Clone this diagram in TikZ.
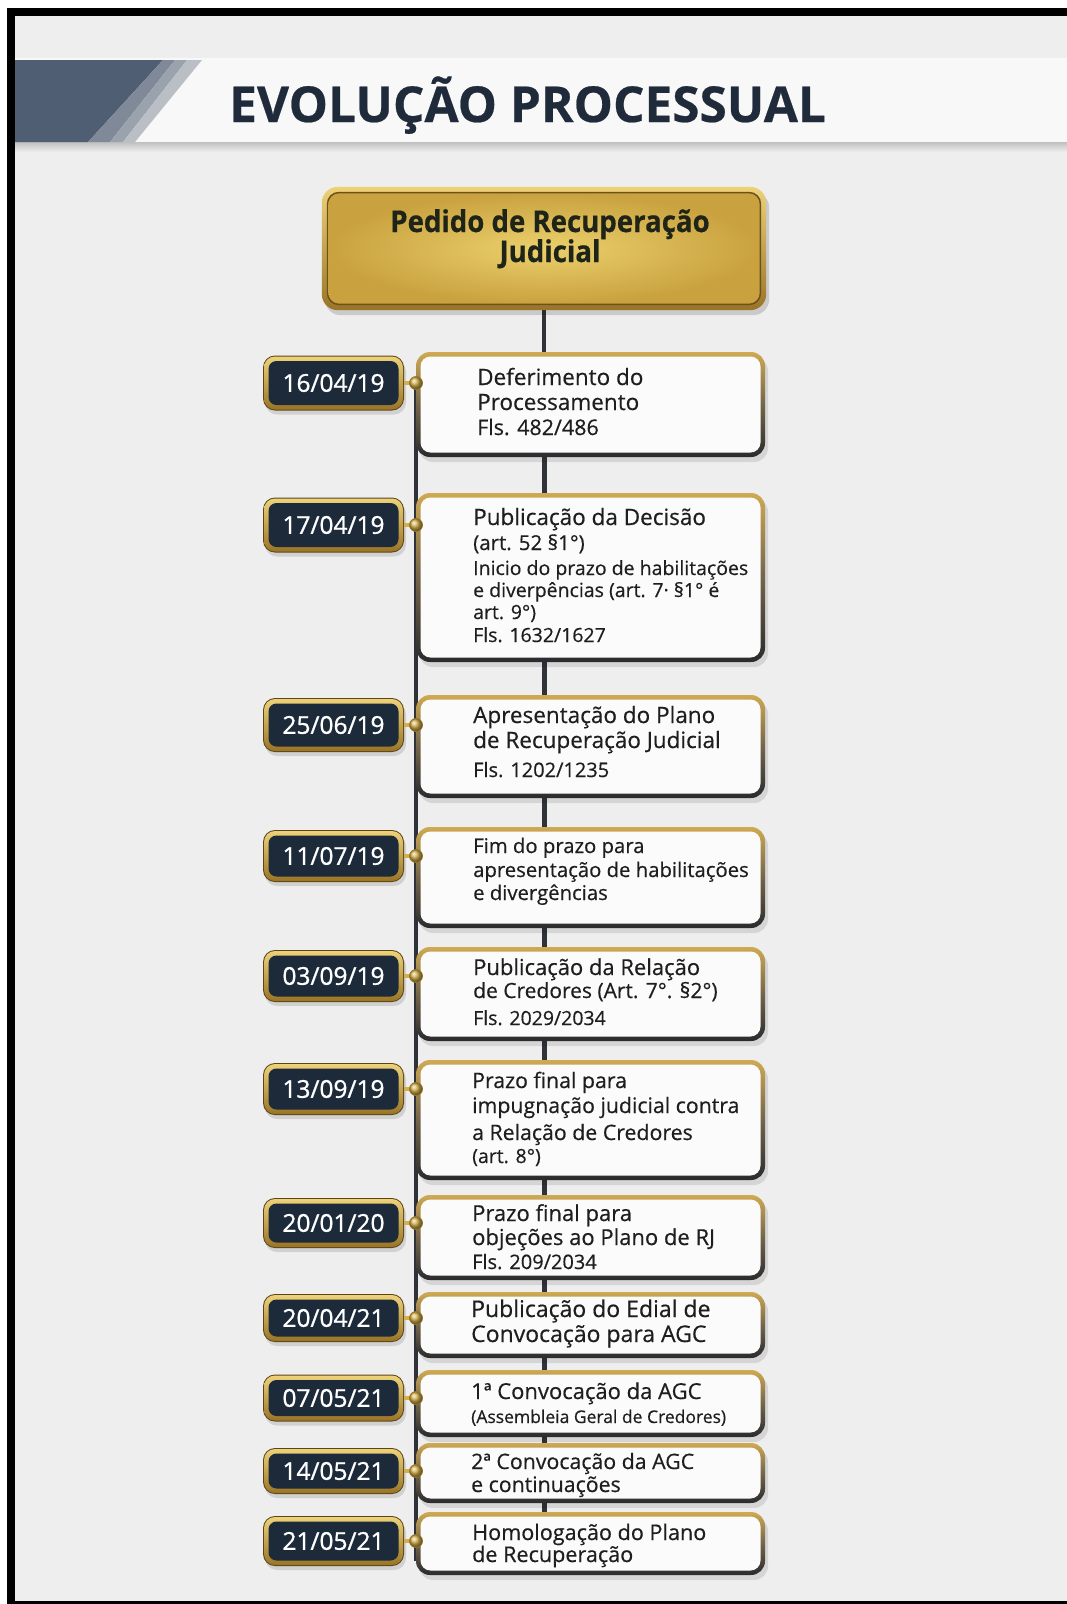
\documentclass[tikz,border=0pt]{standalone}
\usepackage{fontspec}
\setmainfont{Open Sans}[FakeBold=0.45]
\newfontfamily\goldfont{Open Sans}[FakeStretch=0.92,FakeBold=0.5]
\newfontfamily\datefont{Open Sans}[FakeBold=1.1]
\usetikzlibrary{calc}
\pgfdeclarelayer{back}
\pgfdeclarelayer{lines}
\pgfdeclarelayer{boxes}
\pgfsetlayers{back,lines,boxes,main}
\definecolor{pagebg}{HTML}{EEEEEE}
\definecolor{bannerw}{HTML}{F8F8F8}
\definecolor{slate}{HTML}{4F5E72}
\definecolor{slateA}{HTML}{7F8997}
\definecolor{slateB}{HTML}{9AA2AD}
\definecolor{slateC}{HTML}{BABFC6}
\definecolor{titlecol}{HTML}{1F2B3B}
\definecolor{goldL}{HTML}{EDD27A}
\definecolor{goldM}{HTML}{D4B04C}
\definecolor{goldD}{HTML}{9A7426}
\definecolor{goldIn}{HTML}{EBD06C}
\definecolor{goldOut}{HTML}{C9A23F}
\definecolor{navy}{HTML}{1C2A3A}
\definecolor{egold}{HTML}{CFAA52}
\definecolor{emid}{HTML}{74654A}
\definecolor{edark}{HTML}{2A2B2E}
\definecolor{linecol}{HTML}{2F3339}
\definecolor{txt}{HTML}{1E1E1E}
\definecolor{gtxt}{HTML}{1E2418}
\definecolor{evfill}{HTML}{FBFBFB}
\newcommand\evl[3]{\baselineskip=#1pt\hbox{\fontsize{#2}{#2}\selectfont #3}}
\newcommand\evbox[3]{%
  \node[evnode, minimum height={#3-#2}] (#1) at (590.5,{(#2+#3)/2}) {};
  \begin{pgfonlayer}{boxes}
    \fill[black, opacity=.10, rounded corners=14] ($(#1.north west)+(3,5)$) rectangle ($(#1.south east)+(3,5)$);
    \shade[rounded corners=14, top color=egold, bottom color=edark, middle color=emid] (#1.north west) rectangle (#1.south east);
    \fill[evfill, rounded corners=10] ($(#1.north west)+(4.5,4.5)$) rectangle ($(#1.south east)+(-4.5,-4.5)$);
  \end{pgfonlayer}}
\newcommand\datebox[4]{%
  \node[datenode, minimum height=#3] (#1) at (333.5,#2) {#4};
  \begin{pgfonlayer}{boxes}
    \fill[black, opacity=.12, rounded corners=12] ($(#1.north west)+(2,4)$) rectangle ($(#1.south east)+(2,4)$);
    \fill[goldD!60!black, rounded corners=12] (#1.north west) rectangle (#1.south east);
    \shade[rounded corners=11, top color=goldL, bottom color=goldD] ($(#1.north west)+(1,1)$) rectangle ($(#1.south east)+(-1,-1)$);
    \fill[navy, rounded corners=8] ($(#1.north west)+(5.5,5.5)$) rectangle ($(#1.south east)+(-5.5,-5.5)$);
  \end{pgfonlayer}}
\tikzset{
  evnode/.style={minimum width=349pt, inner sep=0pt, outer sep=0pt, draw=none},
  datenode/.style={minimum width=141pt, inner sep=0pt, outer sep=0pt, text=white,
    font=\datefont\fontsize{24.5}{24.5}\selectfont, text height=17.5pt, text depth=0pt},
  dotnode/.style={circle, minimum size=13pt, inner sep=0pt, ball color=goldM, draw=goldD, line width=0.8pt},
  evtext/.style={anchor=base west, inner sep=0pt, text=txt},
  conn/.style={draw=linecol, line width=5pt},
  spine/.style={draw=linecol, line width=4pt},
  tickline/.style={draw=goldM, line width=3.5pt},
}
\begin{document}
\begin{tikzpicture}[x=1pt,y=-1pt]
\useasboundingbox (0,0) rectangle (1067,1604);
\begin{pgfonlayer}{back}
  \fill[white] (0,0) rectangle (1067,1604);
  \fill[pagebg] (15,16) rectangle (1067,1601);
  \shade[top color=black!25, bottom color=pagebg] (15,142) rectangle (1067,152);
  \fill[bannerw] (15,58) rectangle (1067,142);
  \fill[slate] (15,60) -- (163,60) -- (88,142) -- (15,142) -- cycle;
  \fill[slateA] (163,60) -- (175,60) -- (110,142) -- (88,142) -- cycle;
  \fill[slateB] (175,60) -- (187,60) -- (123,142) -- (110,142) -- cycle;
  \fill[slateC] (187,60) -- (202,60) -- (135,142) -- (123,142) -- cycle;
  \fill[black] (7,8) rectangle (1067,16);
  \fill[black] (7,8) rectangle (15,1604);
  \fill[black] (7,1601) rectangle (1067,1604);
\end{pgfonlayer}

\node[anchor=base west, inner sep=0pt, text=titlecol, font=\bfseries\fontsize{49.5}{49.5}\selectfont] (title) at (229,122) {EVOLUÇÃO PROCESSUAL};

% gold box
\node[minimum width=444pt, minimum height=123pt, inner sep=0pt] (g) at (544,248.5) {};
\begin{pgfonlayer}{boxes}
  \fill[black, opacity=.15, rounded corners=16] ($(g.north west)+(3,5)$) rectangle ($(g.south east)+(3,5)$);
  \shade[rounded corners=16, top color=goldL, bottom color=goldD] (g.north west) rectangle (g.south east);
  \fill[goldD!70!black, rounded corners=12] ($(g.north west)+(5,5)$) rectangle ($(g.south east)+(-5,-5)$);
  \shade[rounded corners=11, inner color=goldIn, outer color=goldOut] ($(g.north west)+(6.5,6.5)$) rectangle ($(g.south east)+(-6.5,-6.5)$);
\end{pgfonlayer}
\node[anchor=base, inner sep=0pt, text=gtxt, font=\goldfont\bfseries\fontsize{30}{30}\selectfont] (gt) at (550,232)
  {\vtop{\hbox to 0pt{\hss Pedido de Recuperação\hss}\baselineskip=30pt\hbox to 0pt{\hss Judicial\hss}}};

% event boxes
\evbox{b1}{352}{457}
\evbox{b2}{493}{662}
\evbox{b3}{695}{798}
\evbox{b4}{827}{928}
\evbox{b5}{947}{1041}
\evbox{b6}{1060}{1180}
\evbox{b7}{1195}{1280}
\evbox{b8}{1292}{1358}
\evbox{b9}{1370}{1437}
\evbox{b10}{1443}{1503}
\evbox{b11}{1512}{1575}

% date boxes
\datebox{d1}{383}{55}{16/04/19}
\datebox{d2}{525}{55}{17/04/19}
\datebox{d3}{725}{54}{25/06/19}
\datebox{d4}{856}{52}{11/07/19}
\datebox{d5}{976}{52}{03/09/19}
\datebox{d6}{1089}{52}{13/09/19}
\datebox{d7}{1223}{50}{20/01/20}
\datebox{d8}{1318}{48}{20/04/21}
\datebox{d9}{1398}{47}{07/05/21}
\datebox{d10}{1471}{46}{14/05/21}
\datebox{d11}{1541}{50}{21/05/21}

% dots
\foreach \i/\y in {1/383,2/525,3/725,4/856,5/976,6/1089,7/1223,8/1318,9/1398,10/1471,11/1541}{
  \node[dotnode] (p\i) at (416,\y) {};
}

\begin{pgfonlayer}{lines}
  \draw[spine] (p1.center) -- ($(p1.center |- b11.south)+(0,-14)$);
  \draw[conn, line width=4pt] (g.south) -- (g.south |- b1.north);
  \foreach \a/\b in {b1/b2,b2/b3,b3/b4,b4/b5,b5/b6,b6/b7,b7/b8,b8/b9,b9/b10,b10/b11}{
    \draw[conn] (\a.south -| g.south) -- (\b.north -| g.south);
  }
\end{pgfonlayer}
\begin{pgfonlayer}{boxes}
  \foreach \i in {1,...,11}{
    \draw[tickline] (d\i.east) -- (p\i.center);
  }
\end{pgfonlayer}

% texts
\node[evtext] (t1) at (477,385) {\vtop{\evl{0}{22.5}{Deferimento do}\evl{25}{22.5}{Processamento}\evl{25}{21.5}{Fls. 482/486}}};
\node[evtext] (t2) at (473,525) {\vtop{\evl{0}{22.5}{Publicação da Decisão}\evl{25}{20.5}{(art. 52 §1°)}\evl{25}{19.5}{Inicio do prazo de habilitações}\evl{22}{19.5}{e diverpências (art. 7· §1° é}\evl{22}{19.5}{art. 9°)}\evl{23}{19.5}{Fls. 1632/1627}}};
\node[evtext] (t3) at (473,723) {\vtop{\evl{0}{22.5}{Apresentação do Plano}\evl{25}{22.5}{de Recuperação Judicial}\evl{29}{20}{Fls. 1202/1235}}};
\node[evtext] (t4) at (473,853) {\vtop{\evl{0}{20.3}{Fim do prazo para}\evl{24}{20.3}{apresentação de habilitações}\evl{23}{20.3}{e divergências}}};
\node[evtext] (t5) at (473,975) {\vtop{\evl{0}{22}{Publicação da Relação}\evl{23}{21}{de Credores (Art. 7°. §2°)}\evl{27}{19.5}{Fls. 2029/2034}}};
\node[evtext] (t6) at (472,1088) {\vtop{\evl{0}{21.3}{Prazo final para}\evl{25}{21.3}{impugnação judicial contra}\evl{27}{21.3}{a Relação de Credores}\evl{23}{19.5}{(art. 8°)}}};
\node[evtext] (t7) at (472,1221) {\vtop{\evl{0}{22}{Prazo final para}\evl{24}{22}{objeções ao Plano de RJ}\evl{24}{20}{Fls. 209/2034}}};
\node[evtext] (t8) at (471,1317) {\vtop{\evl{0}{23}{Publicação do Edial de}\evl{25}{23}{Convocação para AGC}}};
\node[evtext] (t9) at (471,1399) {\vtop{\evl{0}{22}{1ª Convocação da AGC}\evl{24}{17.5}{(Assembleia Geral de Credores)}}};
\node[evtext] (t10) at (471,1469) {\vtop{\evl{0}{21.3}{2ª Convocação da AGC}\evl{23}{21.3}{e continuações}}};
\node[evtext] (t11) at (472,1540) {\vtop{\evl{0}{21.6}{Homologação do Plano}\evl{22}{21.6}{de Recuperação}}};
\end{tikzpicture}
\end{document}
